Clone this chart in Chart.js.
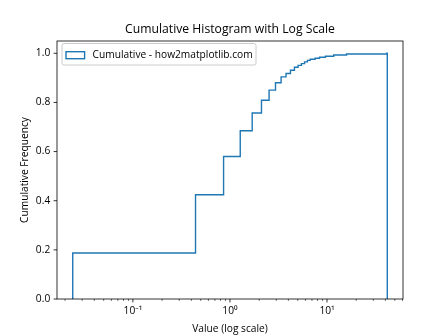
<!DOCTYPE html>
<html lang="en">
<head>
    <meta charset="UTF-8">
    <title>Cumulative Histogram with Log Scale</title>
    <script src="https://cdn.jsdelivr.net/npm/chart.js"></script>
    <style>
        html, body { margin: 0; padding: 0; background: #fff; }
        #grafico { display: block; }
    </style>
</head>
<body>
    <canvas id="grafico" width="448" height="336"></canvas>

<script>
    // bin edges where the cumulative curve steps up (empty bins skipped)
    const stepEdges = [0.024, 0.442, 0.860, 1.277, 1.695, 2.113, 2.531, 2.948, 3.366, 3.784,
        4.202, 4.620, 5.037, 5.455, 5.873, 6.291, 6.708, 7.544, 8.380, 9.633,
        11.722, 15.900, 41.382];
    // cumulative frequency reached after each of those edges
    const cumFreq = [0.187, 0.424, 0.580, 0.685, 0.757, 0.809, 0.850, 0.880, 0.904, 0.918,
        0.931, 0.943, 0.951, 0.958, 0.965, 0.971, 0.976, 0.980, 0.984, 0.988,
        0.993, 0.997, 1.000];
    const lastEdge = 41.8;

    const xMajorTicks = [0.1, 1, 10];
    const xTickLabels = ['10⁻¹', '10⁰', '10¹'];
    const xMinorMult = [2, 3, 4, 5, 6, 7, 8, 9];
    const xDecades = [0.01, 0.1, 1, 10];
    const yTicks = [0, 0.2, 0.4, 0.6, 0.8, 1.0];

    const fonte = "'Open Sans', 'Noto Sans', sans-serif";
    const tam = 10.2;
    const azul = '#1f77b4';

    // outline of the step histogram
    let pontos = [{ x: stepEdges[0], y: 0 }];
    stepEdges.forEach(function (x, i) {
        pontos.push({ x: x, y: cumFreq[i] });
    });
    pontos.push({ x: lastEdge, y: cumFreq[cumFreq.length - 1] });
    pontos.push({ x: lastEdge, y: 0 });

    // all x tick positions (major + minor) inside the axis range
    const xMin = 0.01652, xMax = 60.7;
    let xTodos = [];
    xDecades.forEach(function (d) {
        [1].concat(xMinorMult).forEach(function (m) {
            const v = +(d * m).toPrecision(3);
            if (v >= xMin && v <= xMax) xTodos.push(v);
        });
    });

    // frame, tick marks and legend like matplotlib
    const molduraPlugin = {
        id: 'moldura',
        afterDraw(chart) {
            const ctx = chart.ctx;
            const a = chart.chartArea;
            const sx = chart.scales.x, sy = chart.scales.y;
            ctx.save();
            ctx.strokeStyle = '#000';
            ctx.lineWidth = 0.8;
            ctx.strokeRect(a.left, a.top, a.right - a.left, a.bottom - a.top);

            xTodos.forEach(function (v) {
                const px = sx.getPixelForValue(v);
                const len = xMajorTicks.includes(v) ? 3.4 : 1.9;
                ctx.lineWidth = xMajorTicks.includes(v) ? 0.8 : 0.6;
                ctx.beginPath();
                ctx.moveTo(px, a.bottom);
                ctx.lineTo(px, a.bottom + len);
                ctx.stroke();
            });
            ctx.lineWidth = 0.8;
            yTicks.forEach(function (v) {
                const py = sy.getPixelForValue(v);
                ctx.beginPath();
                ctx.moveTo(a.left, py);
                ctx.lineTo(a.left - 3.4, py);
                ctx.stroke();
            });

            // legend
            const lx = a.left + 5, ly = a.top + 2.5, lw = 194, lh = 21.5;
            ctx.beginPath();
            ctx.roundRect(lx, ly, lw, lh, 2);
            ctx.fillStyle = 'rgba(255,255,255,0.8)';
            ctx.fill();
            ctx.strokeStyle = '#cccccc';
            ctx.lineWidth = 1;
            ctx.stroke();

            ctx.strokeStyle = azul;
            ctx.lineWidth = 1.4;
            ctx.strokeRect(lx + 4, ly + 8.2, 18.6, 7);

            ctx.fillStyle = '#000';
            ctx.font = tam + 'px ' + fonte;
            ctx.textBaseline = 'middle';
            ctx.textAlign = 'left';
            ctx.fillText(chart.data.datasets[0].label, lx + 30.6, ly + 11.2);
            ctx.restore();
        }
    };

    const config = {
        type: 'line',
        data: {
            datasets: [{
                label: 'Cumulative - how2matplotlib.com',
                data: pontos,
                borderColor: azul,
                borderWidth: 1.4,
                stepped: 'before',
                pointRadius: 0,
                fill: false,
            }]
        },
        options: {
            responsive: false,
            animation: false,
            layout: { padding: { left: 0, right: 45, top: 0, bottom: 0 } },
            plugins: {
                legend: { display: false },
                tooltip: { enabled: false },
                title: {
                    display: true,
                    fullSize: false,
                    text: 'Cumulative Histogram with Log Scale',
                    color: '#000',
                    font: { family: fonte, size: 12.2, weight: 'normal' },
                    padding: { top: 22.7, bottom: 3.66 }
                }
            },
            scales: {
                x: {
                    type: 'logarithmic',
                    min: xMin,
                    max: xMax,
                    afterBuildTicks: function (scale) {
                        scale.ticks = xTodos.map(function (v) { return { value: v }; });
                    },
                    afterFit: function (scale) { scale.height = 37; },
                    grid: { display: false, drawTicks: true, tickLength: 3.4 },
                    border: { display: false },
                    ticks: {
                        autoSkip: false,
                        maxRotation: 0,
                        padding: 3,
                        color: '#000',
                        font: { family: fonte, size: tam },
                        callback: function (v) {
                            const i = xMajorTicks.indexOf(v);
                            return i >= 0 ? xTickLabels[i] : '';
                        }
                    },
                    title: {
                        display: true,
                        text: 'Value (log scale)',
                        color: '#000',
                        font: { family: fonte, size: tam },
                        padding: { top: 0, bottom: 0.4 }
                    }
                },
                y: {
                    min: 0,
                    max: 1.05,
                    afterBuildTicks: function (scale) {
                        scale.ticks = yTicks.map(function (v) { return { value: v }; });
                    },
                    afterFit: function (scale) { scale.width = 57; },
                    grid: { display: false, drawTicks: true, tickLength: 3.4 },
                    border: { display: false },
                    ticks: {
                        padding: 3.4,
                        color: '#000',
                        font: { family: fonte, size: tam },
                        callback: function (v) { return v.toFixed(1); }
                    },
                    title: {
                        display: true,
                        text: 'Cumulative Frequency',
                        color: '#000',
                        font: { family: fonte, size: tam },
                        padding: { top: 18.9, bottom: 0 }
                    }
                }
            }
        },
        plugins: [molduraPlugin]
    };

    let myChart = new Chart(document.getElementById('grafico'), config);
</script>
</body>
</html>
